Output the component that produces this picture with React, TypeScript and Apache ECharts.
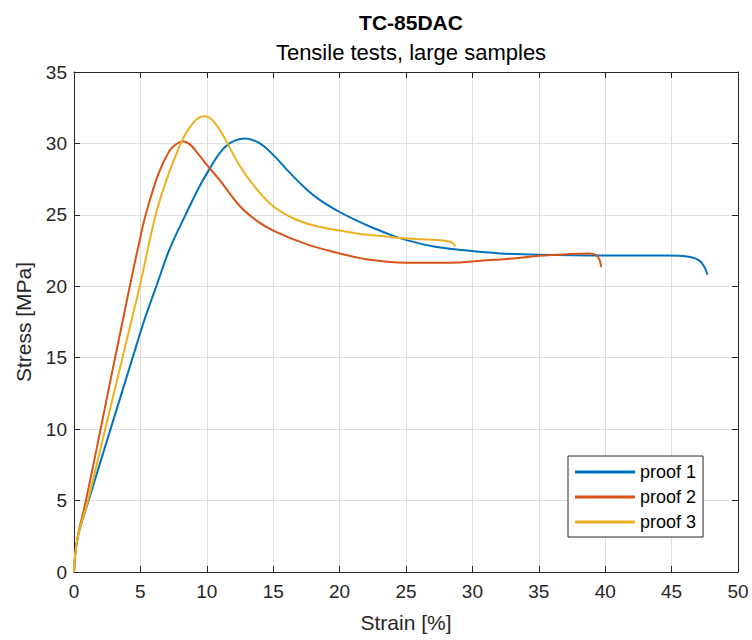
import React, { useEffect, useRef } from "react";
import * as echarts from "echarts";

const seriesNames = ["proof 1", "proof 2", "proof 3"];
const seriesColors = ["#0072BD", "#D95319", "#EDB120"];

const proof1Strain = [0, 0.25, 1.1, 2.75, 4.35, 5.25, 6.2, 7.2, 8.4, 9.4, 10.2, 11.0, 11.8, 12.9, 14.0, 15, 16.3, 17.5, 18.5, 20, 21.3, 22.5, 24, 25, 27, 29.6, 32.1, 35, 40, 44.6, 46.4, 47.1, 47.5, 47.7];
const proof1Stress = [0, 2.3, 5, 10, 14.8, 17.5, 20, 22.6, 25, 26.9, 28.2, 29.35, 30.05, 30.35, 30.0, 29.2, 27.9, 26.8, 26.05, 25.2, 24.6, 24.1, 23.55, 23.25, 22.8, 22.5, 22.3, 22.2, 22.15, 22.15, 22.05, 21.8, 21.3, 20.8];

const proof2Strain = [0, 0.25, 0.9, 2.0, 3.05, 3.65, 4.2, 4.8, 5.4, 6.35, 7.2, 7.7, 8.2, 8.7, 9.2, 10, 11.0, 12.5, 13.75, 15, 17.5, 20, 22, 25, 28.3, 30.8, 33.3, 35, 37.1, 38.8, 39.3, 39.55, 39.65, 39.7];
const proof2Stress = [0, 2.3, 5, 10, 14.8, 17.5, 20, 22.6, 25, 27.85, 29.5, 29.95, 30.15, 29.95, 29.45, 28.5, 27.4, 25.6, 24.6, 23.9, 22.95, 22.3, 21.9, 21.65, 21.65, 21.8, 21.97, 22.13, 22.25, 22.3, 22.2, 21.9, 21.6, 21.35];

const proof3Strain = [0, 0.25, 1.05, 2.35, 3.6, 4.3, 4.95, 6.15, 6.95, 7.7, 8.3, 8.9, 9.4, 9.85, 10.4, 11.2, 12.5, 13.75, 15, 16.3, 17.5, 18.8, 20, 21.3, 23.8, 25, 27, 28.2, 28.55, 28.7];
const proof3Stress = [0, 2.3, 5, 10, 14.8, 17.5, 20, 25, 27.4, 29.25, 30.5, 31.35, 31.8, 31.9, 31.65, 30.6, 28.4, 26.8, 25.6, 24.85, 24.4, 24.1, 23.9, 23.7, 23.45, 23.35, 23.25, 23.15, 23.0, 22.8];

const strainData = [proof1Strain, proof2Strain, proof3Strain];
const stressData = [proof1Stress, proof2Stress, proof3Stress];

const FONT = "'Liberation Sans', Arial, Helvetica, sans-serif";
const AXIS_COLOR = "#262626";
const GRID_COLOR = "#dfdfdf";

export default function App() {
  const ref = useRef<HTMLDivElement>(null);

  useEffect(() => {
    if (!ref.current) return;
    const chart = echarts.init(ref.current, undefined, { renderer: "svg" });

    const axisCommon = {
      min: 0,
      interval: 5,
      axisLine: { show: true, onZero: false, lineStyle: { color: AXIS_COLOR, width: 1 } },
      axisTick: { show: true, inside: true, length: 6, lineStyle: { color: AXIS_COLOR } },
    };

    const option = {
      animation: false,
      backgroundColor: "#ffffff",
      textStyle: { fontFamily: FONT },
      title: [
        {
          text: "TC-85DAC",
          left: 406,
          top: 7,
          textAlign: "center",
          textStyle: { fontFamily: FONT, fontSize: 21, fontWeight: "bold", color: "#000000" },
        },
        {
          text: "Tensile tests, large samples",
          left: 406,
          top: 36,
          textAlign: "center",
          textStyle: { fontFamily: FONT, fontSize: 22, fontWeight: "normal", color: "#000000" },
        },
      ],
      grid: { left: 74, right: 14, top: 72, bottom: 68, containLabel: false },
      legend: {
        orient: "vertical",
        left: 568,
        top: 456,
        data: seriesNames,
        icon: "rect",
        itemWidth: 60,
        itemHeight: 3,
        itemGap: 7,
        padding: [7, 7, 6, 7],
        borderColor: AXIS_COLOR,
        borderWidth: 1,
        backgroundColor: "#ffffff",
        textStyle: { fontFamily: FONT, fontSize: 18, color: "#000000" },
      },
      xAxis: [
        {
          ...axisCommon,
          type: "value",
          max: 50,
          position: "bottom",
          name: "Strain [%]",
          nameLocation: "middle",
          nameGap: 40,
          nameTextStyle: { fontFamily: FONT, fontSize: 21, color: AXIS_COLOR },
          axisLabel: { show: true, margin: 10, fontFamily: FONT, fontSize: 19, color: AXIS_COLOR },
          splitLine: { show: true, lineStyle: { color: GRID_COLOR, width: 1 } },
        },
        {
          ...axisCommon,
          type: "value",
          max: 50,
          position: "top",
          axisLabel: { show: false },
          splitLine: { show: false },
        },
      ],
      yAxis: [
        {
          ...axisCommon,
          type: "value",
          max: 35,
          position: "left",
          name: "Stress [MPa]",
          nameLocation: "middle",
          nameGap: 40,
          nameTextStyle: { fontFamily: FONT, fontSize: 21, color: AXIS_COLOR },
          axisLabel: { show: true, margin: 7, fontFamily: FONT, fontSize: 19, color: AXIS_COLOR },
          splitLine: { show: true, lineStyle: { color: GRID_COLOR, width: 1 } },
        },
        {
          ...axisCommon,
          type: "value",
          max: 35,
          position: "right",
          axisLabel: { show: false },
          splitLine: { show: false },
        },
      ],
      series: seriesNames.map((name, i) => ({
        name,
        type: "line",
        xAxisIndex: 0,
        yAxisIndex: 0,
        data: strainData[i].map((x, j) => [x, stressData[i][j]]),
        showSymbol: false,
        symbol: "none",
        smooth: 0.4,
        lineStyle: { color: seriesColors[i], width: 2 },
        itemStyle: { color: seriesColors[i] },
        z: 2 + i,
      })),
    };

    chart.setOption(option as any);
    return () => {
      chart.dispose();
    };
  }, []);

  return (
    <div
      ref={ref}
      style={{ position: "fixed", left: 0, top: 0, width: 752, height: 640, background: "#ffffff" }}
    />
  );
}
